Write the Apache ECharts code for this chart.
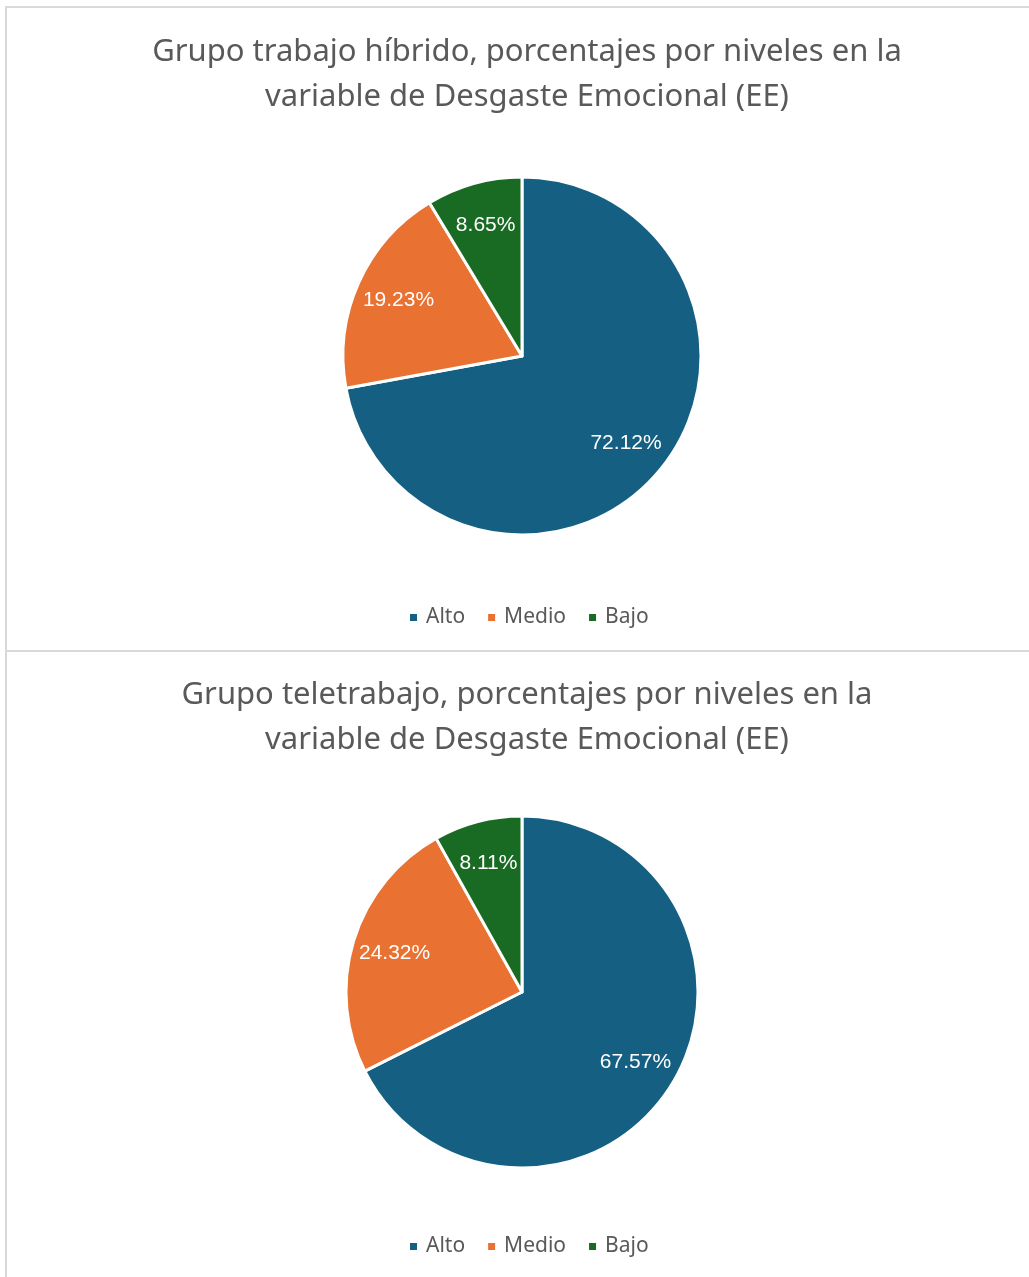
<!DOCTYPE html>
<html>
<head>
  <meta charset="UTF-8">
  <title>Desgaste Emocional (EE)</title>
  <script src="https://cdn.jsdelivr.net/npm/echarts@6/dist/echarts.min.js"></script>
  <style>
    body { margin: 0; background: #fff; width: 1029px; height: 1277px; position: relative; overflow: hidden; }
    .line { position: absolute; background: #d9d9d9; }
    .chart { position: absolute; left: 0; width: 1029px; }
  </style>
</head>
<body>
<div class="line" style="left:5px;top:6px;width:1024px;height:2px;"></div>
<div class="line" style="left:5px;top:650px;width:1024px;height:2px;"></div>
<div class="line" style="left:5px;top:6px;width:2px;height:1271px;"></div>
<div id="top" class="chart" style="top:0;height:650px;"></div>
<div id="bottom" class="chart" style="top:652px;height:625px;"></div>
<script type="text/javascript">
  // niveles y porcentajes
  var niveles = ['Alto', 'Medio', 'Bajo'];
  var colores = ['#156082', '#E97132', '#196B24'];
  var hibrido = [72.12, 19.23, 8.65];
  var teletrabajo = [67.57, 24.32, 8.11];
  var tituloHibrido = 'Grupo trabajo híbrido, porcentajes por niveles en la\nvariable de Desgaste Emocional (EE)';
  var tituloTele = 'Grupo teletrabajo, porcentajes por niveles en la\nvariable de Desgaste Emocional (EE)';

  var fuente = '"Noto Sans", "Open Sans", sans-serif';

  function makeOption(titulo, valores, titleTop, cy, r, legendTop) {
    var data = [];
    for (var i = 0; i < niveles.length; i++) {
      data.push({ name: niveles[i], value: valores[i], itemStyle: { color: colores[i] } });
    }
    return {
      animation: false,
      title: {
        text: titulo,
        left: 522,
        top: titleTop,
        textAlign: 'center',
        textStyle: {
          fontFamily: fuente,
          fontSize: 31,
          fontWeight: 'normal',
          color: '#595959',
          lineHeight: 45
        }
      },
      legend: {
        data: niveles,
        top: legendTop,
        left: 403,
        icon: 'rect',
        itemWidth: 9,
        itemHeight: 9,
        itemGap: 21,
        textStyle: { fontFamily: fuente, fontSize: 21, color: '#595959', padding: [0, 0, 0, 3] }
      },
      series: [
        {
          type: 'pie',
          center: [522, cy],
          radius: [0, r],
          startAngle: 90,
          clockwise: true,
          label: { show: false },
          labelLine: { show: false },
          itemStyle: { borderColor: '#ffffff', borderWidth: 3 },
          emphasis: { disabled: true },
          data: data
        },
        {
          // capa transparente para colocar las etiquetas mas hacia el borde
          type: 'pie',
          center: [522, cy],
          radius: [r * 0.48, r],
          startAngle: 90,
          clockwise: true,
          silent: true,
          itemStyle: { color: 'rgba(0,0,0,0)', borderWidth: 0 },
          label: {
            show: true,
            position: 'inside',
            color: '#ffffff',
            fontFamily: '"Liberation Sans", Arial, sans-serif',
            fontSize: 21,
            formatter: function (p) { return p.value.toFixed(2) + '%'; }
          },
          labelLine: { show: false },
          emphasis: { disabled: true },
          data: data.map(function (d) { return { name: d.name, value: d.value }; })
        }
      ]
    };
  }

  var chartTop = echarts.init(document.getElementById('top'));
  chartTop.setOption(makeOption(tituloHibrido, hibrido, 25, 356, 179, 602));

  var chartBottom = echarts.init(document.getElementById('bottom'));
  chartBottom.setOption(makeOption(tituloTele, teletrabajo, 16, 340, 176, 579));
</script>
</body>
</html>
